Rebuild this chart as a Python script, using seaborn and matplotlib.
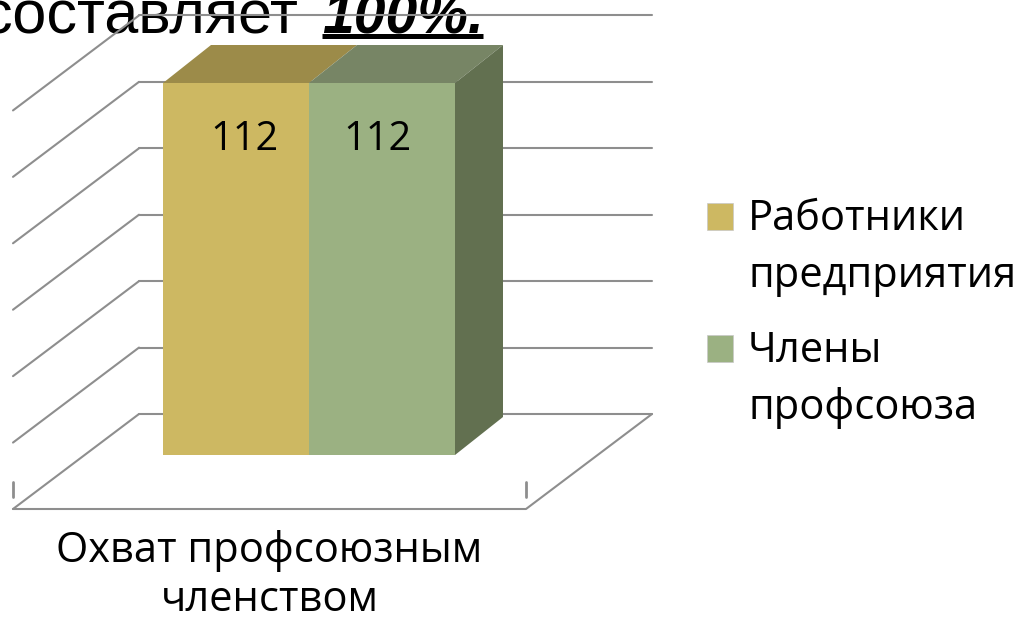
import matplotlib
matplotlib.use("Agg")
import matplotlib.pyplot as plt
import seaborn as sns
import pandas as pd
from matplotlib.patches import Polygon, Rectangle
from matplotlib.lines import Line2D

# --- data ---
category = "Охват профсоюзным\nчленством"
series = ["Работники предприятия", "Члены профсоюза"]
legend_labels = ["Работники\nпредприятия", "Члены\nпрофсоюза"]
values = [112, 112]
grid_values = [0, 20, 40, 60, 80, 100, 120]
title_plain = "составляет"
title_bold = "100%."

front_colors = ["#CDB862", "#9BB182"]
top_colors = ["#9C8B49", "#778565"]
side_color = "#627050"
line_color = "#8E8E8E"

sns.set_theme(style="white")
plt.rcParams["font.family"] = ["Open Sans", "DejaVu Sans"]

W, H = 1018, 618
fig = plt.figure(figsize=(W / 100, H / 100), dpi=100)
ax = fig.add_axes([0, 0, 1, 1])

df = pd.DataFrame({"category": [category] * len(series), "series": series, "value": values})
sns.barplot(data=df, x="category", y="value", hue="series", palette=front_colors,
            width=0.8, saturation=1, legend=False, ax=ax, zorder=4, edgecolor="none")

# front plane scale: 3D look built around the seaborn bars
S = (455 - 83) / 112      # px per value unit
U = 365                   # px per category unit
x0, y0 = 309, 455         # pixel of (0, 0)
ax.set_xlim(-x0 / U, (W - x0) / U)
ax.set_ylim(-(H - y0) / S, y0 / S)
ax.set_axis_off()

def X(px):
    return (px - x0) / U

def Y(py):
    return (y0 - py) / S

# walls and floor
back_l, back_r, back_y = X(139), X(652), Y(414)
flr_l, flr_r, flr_y = X(13), X(526), Y(509)
lw = 1.5
for v in grid_values:
    ax.plot([back_l, back_r], [back_y + v, back_y + v], color=line_color, lw=lw, zorder=2)
    ax.plot([flr_l, back_l], [flr_y + v, back_y + v], color=line_color, lw=lw, zorder=2)
ax.plot([flr_l, flr_r, back_r], [flr_y, flr_y, back_y], color=line_color, lw=lw, zorder=2)
for xt in [flr_l, flr_r]:
    ax.plot([xt, xt], [flr_y + 12 / S, flr_y + 27 / S], color=line_color, lw=lw + 0.5, zorder=2)

# 3D faces of the bars
ddx, ddy = 48 / U, 38 / S
bars = sorted(ax.patches, key=lambda p: p.get_x())
nudge = [8 / U, -5 / U]
for i, p in enumerate(bars):
    bx, bw, bh = p.get_x(), p.get_width(), p.get_height()
    ax.add_patch(Polygon([(bx, bh), (bx + bw, bh), (bx + bw + ddx, bh + ddy), (bx + ddx, bh + ddy)],
                         closed=True, facecolor=top_colors[i], edgecolor="none", zorder=3))
    ax.text(bx + bw / 2 + nudge[i], bh - 67 / S, f"{bh:.0f}", ha="center", va="baseline",
            fontsize=28.5, color="black", zorder=6)
last = bars[-1]
bx, bw, bh = last.get_x(), last.get_width(), last.get_height()
ax.add_patch(Polygon([(bx + bw, 0), (bx + bw + ddx, ddy), (bx + bw + ddx, bh + ddy), (bx + bw, bh)],
                     closed=True, facecolor=side_color, edgecolor="none", zorder=3))

# category label
for k, line in enumerate(category.split("\n")):
    ax.text((flr_l + flr_r) / 2, Y(562 + 49 * k), line, ha="center", va="baseline",
            fontsize=30, color="black")

# legend (square keys, two-line labels)
def fx(px):
    return px / W

def fy(py):
    return 1 - py / H

for i, lab in enumerate(legend_labels):
    top = 203 + 132 * i
    ax.add_patch(Rectangle((fx(707), fy(top + 27)), 26 / W, 27 / H, transform=fig.transFigure,
                           facecolor=front_colors[i], edgecolor="#C8C8C8", lw=0.5, zorder=5))
    for k, line in enumerate(lab.split("\n")):
        ax.text(fx(748), fy(top + 27 + 57 * k), line, transform=fig.transFigure,
                ha="left", va="baseline", fontsize=30, color="black")

# cut-off title line
ax.text(fx(298), fy(33), title_plain, transform=fig.transFigure, ha="right", va="baseline",
        fontsize=44, family=["Liberation Sans", "DejaVu Sans"], color="black", zorder=1)
tb = ax.text(fx(322), fy(33), title_bold, transform=fig.transFigure, ha="left", va="baseline",
             fontsize=41, family=["Liberation Sans", "DejaVu Sans"], fontweight="bold",
             fontstyle="italic", color="black", zorder=1)
fig.canvas.draw()
bb = tb.get_window_extent(fig.canvas.get_renderer())
fig.add_artist(Line2D([bb.x0 / W, 483 / W], [fy(35.5), fy(35.5)], transform=fig.transFigure,
                      color="black", lw=3.6, solid_capstyle="butt"))

fig.savefig("out.png", dpi=100)
